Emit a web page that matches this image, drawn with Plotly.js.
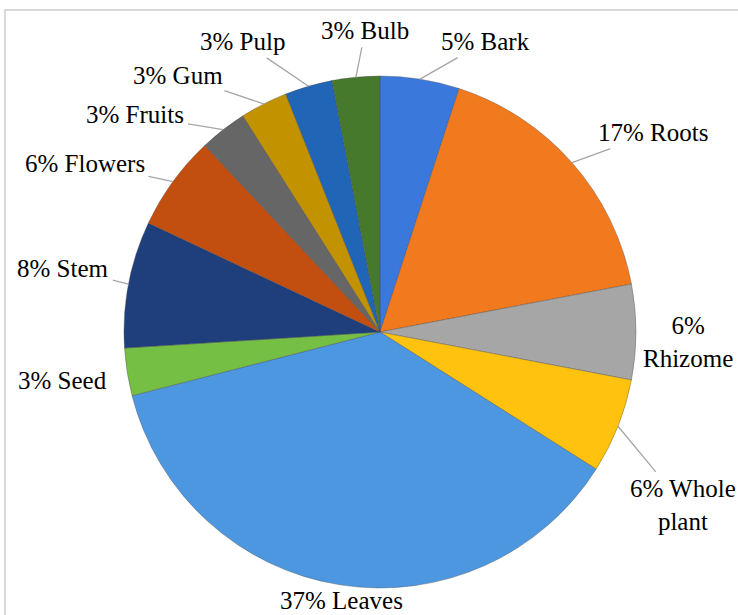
<!DOCTYPE html>
<html>
<head>
<meta charset="utf-8">
<script src="https://cdn.plot.ly/plotly-3.0.1.min.js"></script>
<style>
  html, body { margin: 0; padding: 0; background: #ffffff; }
  #frame { position: absolute; left: 4px; top: 9px; width: 760px; height: 640px; border: 2px solid #d9d9d9; box-sizing: border-box; }
  #chart { position: absolute; left: 0; top: 0; width: 738px; height: 615px; }
</style>
</head>
<body>
<div id="frame"></div>
<div id="chart"></div>
<script>
const parts = ["Bark", "Roots", "Rhizome", "Whole plant", "Leaves", "Seed", "Stem", "Flowers", "Fruits", "Gum", "Pulp", "Bulb"];
const percents = [5, 17, 6, 6, 37, 3, 8, 6, 3, 3, 3, 3];
const labelTexts = ["5% Bark", "17% Roots", "6%<br>Rhizome", "6% Whole<br>plant", "37% Leaves", "3% Seed", "8% Stem", "6% Flowers", "3% Fruits", "3% Gum", "3% Pulp", "3% Bulb"];
const colors = ["#3a78dc", "#f27a1e", "#a6a6a6", "#ffc20e", "#4c97e0", "#76bf45", "#1f3f7c", "#c24f10", "#666666", "#c39200", "#2166b6", "#47792c"];

// label placement (layout only): angular shift from slice middle (deg) and distance of label centre from pie centre (px)
const labelAngleShift = [11, 5.3, 1.9, 8.1, -0.9, 0.4, 0.6, -6.2, -10.6, -11.2, -9.1, 2.6];
const labelDistance = [309, 338, 308, 349, 271, 321, 323, 340, 327, 327, 321, 302];
const showLeader = [true, true, false, true, false, false, true, true, true, true, true, true];

const W = 738, H = 615;
const M = { l: 124, r: 102, t: 76, b: 27 };
const R = Math.min(W - M.l - M.r, H - M.t - M.b) / 2;

const total = percents.reduce((a, b) => a + b, 0);
let cum = 0;
const annotations = percents.map((v, i) => {
  const mid = (cum + v / 2) / total * 360;
  cum += v;
  const a = mid * Math.PI / 180;
  const b = (mid + labelAngleShift[i]) * Math.PI / 180;
  const d = labelDistance[i];
  return {
    xref: "paper", yref: "paper",
    x: 0.5 + 0.5 * Math.sin(a),
    y: 0.5 + 0.5 * Math.cos(a),
    ax: d * Math.sin(b) - R * Math.sin(a),
    ay: -(d * Math.cos(b) - R * Math.cos(a)),
    axref: "pixel", ayref: "pixel",
    text: labelTexts[i],
    showarrow: true,
    arrowhead: 0,
    arrowwidth: 1.3,
    arrowcolor: showLeader[i] ? "#a6a6a6" : "rgba(0,0,0,0)",
    standoff: 0,
    startstandoff: 2,
    align: "center",
    font: { family: "Liberation Serif, Times New Roman, serif", size: 25, color: "#000000" }
  };
});

const trace = {
  type: "pie",
  labels: parts,
  values: percents,
  textinfo: "none",
  sort: false,
  direction: "clockwise",
  rotation: 0,
  marker: { colors: colors, line: { color: "rgba(70,70,70,0.45)", width: 0.8 } },
  automargin: false,
  hoverinfo: "label+percent"
};

const layout = {
  width: W,
  height: H,
  margin: M,
  paper_bgcolor: "rgba(0,0,0,0)",
  plot_bgcolor: "rgba(0,0,0,0)",
  showlegend: false,
  annotations: annotations,
  font: { family: "Liberation Serif, Times New Roman, serif", size: 25, color: "#000000" }
};

Plotly.newPlot("chart", [trace], layout, { displayModeBar: false, staticPlot: true });
</script>
</body>
</html>
